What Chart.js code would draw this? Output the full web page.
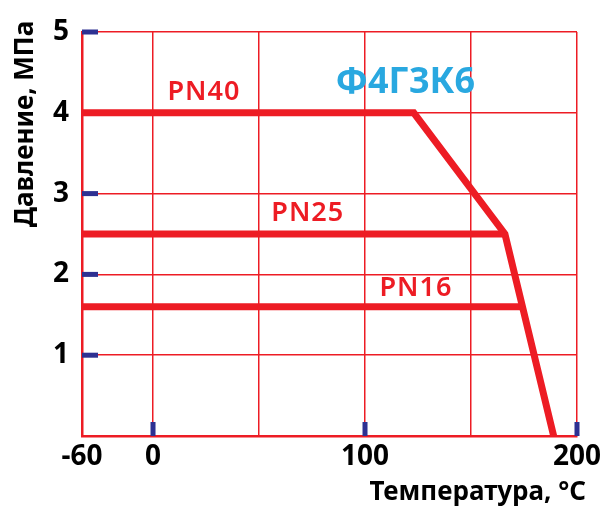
<!DOCTYPE html>
<html>
<head>
<meta charset="utf-8">
<script src="https://cdn.jsdelivr.net/npm/chart.js@4/dist/chart.umd.min.js"></script>
<style>
  html, body { margin: 0; padding: 0; background: #fff; }
  #wrap { width: 609px; height: 527px; position: relative; }
</style>
</head>
<body>
<div id="wrap"><canvas id="chart"></canvas></div>
<script>
// --- Data ---
const pn40Temp = [-60, 123, 166, 189];
const pn40Press = [4, 4, 2.5, 0];
const pn25Temp = [-60, 166];
const pn25Press = [2.5, 2.5];
const pn16Temp = [-60, 174];
const pn16Press = [1.6, 1.6];

const xGridTemps = [-60, 0, 50, 100, 150, 200];
const xLabelTemps = [-60, 0, 100, 200];
const yTicks = [0, 1, 2, 3, 4, 5];
const xMarkTemps = [0, 100, 200];
const yMarks = [1, 2, 3, 4, 5];

const seriesLabels = [
  { text: 'PN40', t: 24, p: 4.25 },
  { text: 'PN25', t: 73, p: 2.75 },
  { text: 'PN16', t: 124, p: 1.83 }
];
const materialLabel = { text: 'Ф4Г3К6', t: 119, p: 4.37 };

// The -60..0 segment is drawn compressed on the original axis
const LEFT_SPAN = 33.5;
const axisX = t => (t < 0 ? t * LEFT_SPAN / 60 : t);
const toPoints = (ts, ps) => ts.map((t, i) => ({ x: axisX(t), y: ps[i] }));

const RED = '#ed1c24';
const BLUE_MARK = '#2e3192';
const FONT = 'Noto Sans';

// --- Extra drawing: blue marks, in-plot labels, axis titles ---
const decorations = {
  id: 'decorations',
  beforeDatasetsDraw(chart) {
    const { ctx, scales: { x, y } } = chart;
    ctx.save();
    ctx.fillStyle = BLUE_MARK;
    yMarks.forEach(v => {
      const py = y.getPixelForValue(v);
      ctx.fillRect(x.left, py - 2.5, 16, 5);
    });
    xMarkTemps.forEach(t => {
      const px = x.getPixelForValue(axisX(t));
      ctx.fillRect(px - 2.5, y.bottom - 14, 5, 14);
    });
    ctx.restore();
  },
  afterDatasetsDraw(chart) {
    const { ctx, scales: { x, y } } = chart;
    ctx.save();
    ctx.textAlign = 'center';
    ctx.textBaseline = 'middle';
    ctx.fillStyle = RED;
    ctx.font = `600 27px "${FONT}"`;
    ctx.letterSpacing = '1px';
    seriesLabels.forEach(l => {
      ctx.fillText(l.text, x.getPixelForValue(axisX(l.t)), y.getPixelForValue(l.p));
    });
    ctx.letterSpacing = '0px';
    ctx.fillStyle = '#29a8e0';
    ctx.font = `bold 36px "${FONT}"`;
    ctx.fillText(materialLabel.text, x.getPixelForValue(materialLabel.t), y.getPixelForValue(materialLabel.p));

    // axis titles
    ctx.fillStyle = '#000';
    ctx.font = `bold 26px "${FONT}"`;
    ctx.textAlign = 'right';
    ctx.textBaseline = 'alphabetic';
    ctx.fillText('Температура, °C', 586, 500);
    ctx.translate(26, 124);
    ctx.rotate(-Math.PI / 2);
    ctx.textAlign = 'center';
    ctx.textBaseline = 'middle';
    ctx.fillText('Давление, МПа', 0, 0);
    ctx.restore();
  }
};

const lineStyle = {
  borderColor: RED,
  borderWidth: 7,
  pointRadius: 0,
  fill: false,
  tension: 0,
  borderJoinStyle: 'miter',
  borderCapStyle: 'butt'
};

new Chart(document.getElementById('chart'), {
  type: 'line',
  data: {
    datasets: [
      { ...lineStyle, label: 'PN40', data: toPoints(pn40Temp, pn40Press) },
      { ...lineStyle, label: 'PN25', data: toPoints(pn25Temp, pn25Press) },
      { ...lineStyle, label: 'PN16', data: toPoints(pn16Temp, pn16Press) }
    ]
  },
  options: {
    responsive: true,
    maintainAspectRatio: false,
    animation: false,
    layout: { padding: { left: 0, top: 32, right: 32, bottom: 0 } },
    plugins: { legend: { display: false }, tooltip: { enabled: false } },
    scales: {
      x: {
        type: 'linear',
        min: axisX(-60),
        max: 200,
        afterBuildTicks: s => { s.ticks = xGridTemps.map(t => ({ value: axisX(t) })); },
        afterFit: s => { s.height = 91; },
        grid: { color: RED, lineWidth: 1.5, drawTicks: false },
        border: { color: RED, width: 2.5 },
        ticks: {
          color: '#000',
          font: { family: FONT, size: 28, weight: 'bold' },
          padding: 4,
          maxRotation: 0,
          autoSkip: false,
          callback: (v, i) => {
            const t = xGridTemps[i];
            return xLabelTemps.includes(t) ? String(t) : '';
          }
        }
      },
      y: {
        type: 'linear',
        min: 0,
        max: 5,
        afterBuildTicks: s => { s.ticks = yTicks.map(v => ({ value: v })); },
        afterFit: s => { s.width = 82; },
        grid: { color: RED, lineWidth: 1.5, drawTicks: false },
        border: { color: RED, width: 2.5 },
        ticks: {
          color: '#000',
          font: { family: FONT, size: 28, weight: 'bold' },
          padding: 13,
          callback: v => (v === 0 ? '' : String(v))
        }
      }
    }
  },
  plugins: [decorations]
});
</script>
</body>
</html>
